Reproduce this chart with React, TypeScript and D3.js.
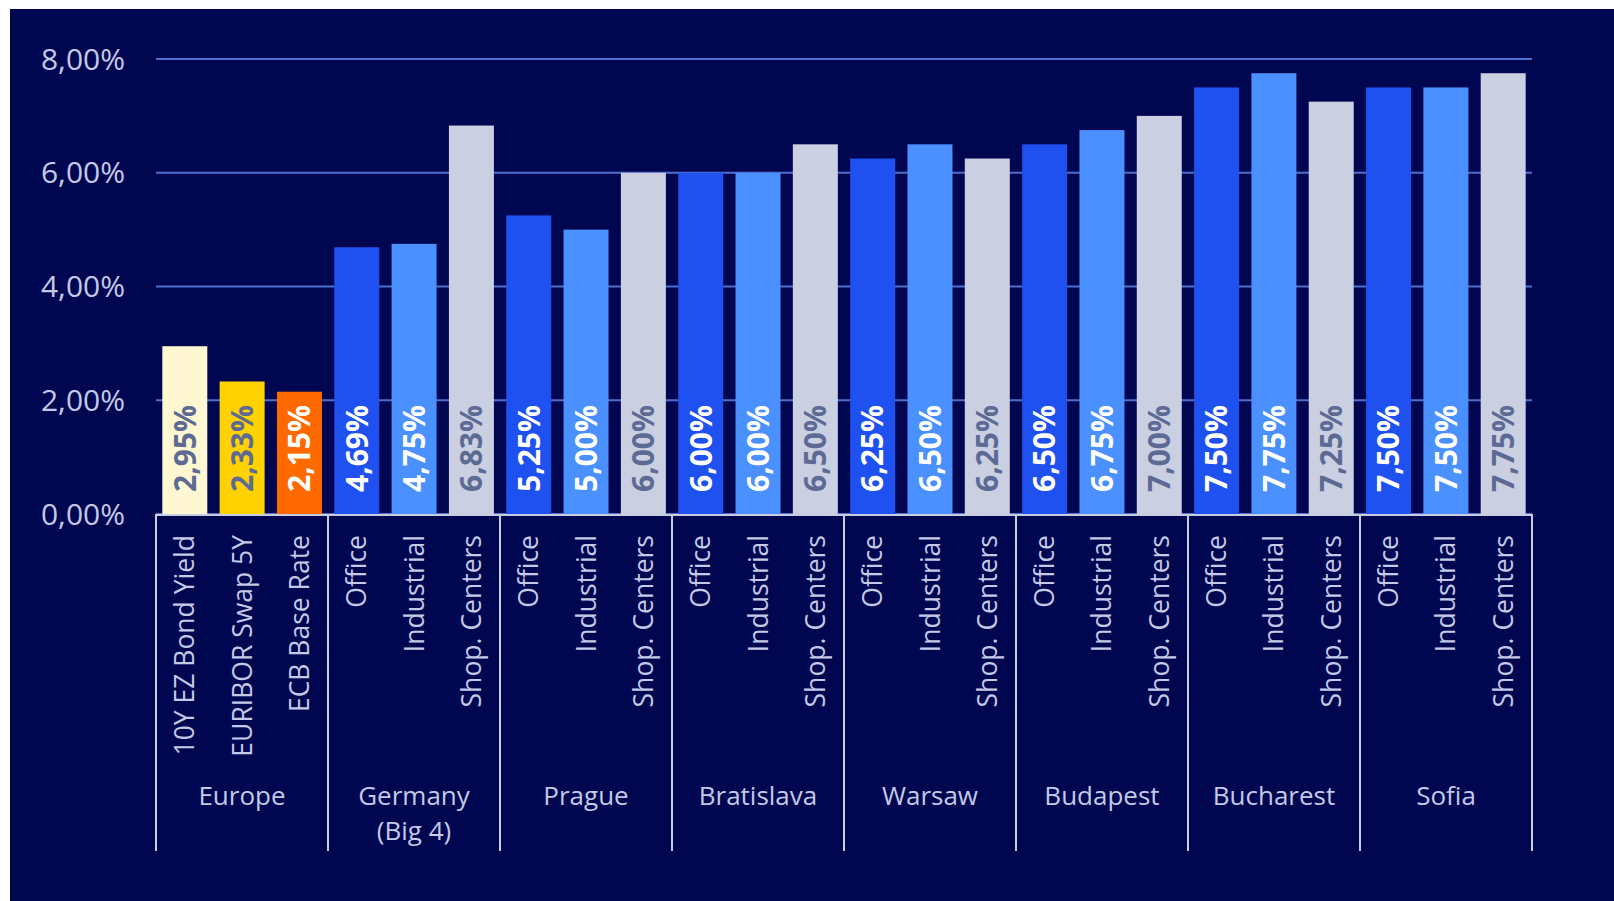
import * as d3 from 'd3';

const groups = ['Europe', 'Germany\n(Big 4)', 'Prague', 'Bratislava', 'Warsaw', 'Budapest', 'Bucharest', 'Sofia'];
const europeItems = ['10Y EZ Bond Yield', 'EURIBOR Swap 5Y', 'ECB Base Rate'];
const sectorItems = ['Office', 'Industrial', 'Shop. Centers'];
const europeValues = [2.95, 2.33, 2.15];
const officeValues = [4.69, 5.25, 6.0, 6.25, 6.5, 7.5, 7.5];
const industrialValues = [4.75, 5.0, 6.0, 6.5, 6.75, 7.75, 7.5];
const shopValues = [6.83, 6.0, 6.5, 6.25, 7.0, 7.25, 7.75];
const yTicks = [0, 2, 4, 6, 8];

const europeColors = ['#fff6d2', '#ffd200', '#ff6a00'];
const sectorColors = ['#1f50f0', '#4a90ff', '#cacfe2'];
const darkText = '#5c6a94';

type Bar = { key: string; label: string; value: number; fill: string; text: string };

const bars: Bar[] = [];
europeItems.forEach((label, i) => {
  bars.push({ key: 'Europe|' + label, label, value: europeValues[i], fill: europeColors[i], text: i === 2 ? '#ffffff' : darkText });
});
groups.slice(1).forEach((g, gi) => {
  const vals = [officeValues[gi], industrialValues[gi], shopValues[gi]];
  sectorItems.forEach((label, i) => {
    bars.push({ key: g + '|' + label, label, value: vals[i], fill: sectorColors[i], text: i === 2 ? darkText : '#ffffff' });
  });
});

const fmt = (v: number) => v.toFixed(2).replace('.', ',') + '%';

const W = 1614;
const H = 901;
const left = 156;
const right = 1532;
const top = 59;
const bottom = 514;
const axisY = 515;
const lineEnd = 851;

export default function App() {
  const x = d3.scaleBand().domain(bars.map((b) => b.key)).range([left, right]).paddingInner(0.215).paddingOuter(0.11);
  const gx = d3.scaleBand().domain(groups).range([left, right]);
  const y = d3.scaleLinear().domain([0, 8]).range([bottom, top]);
  const font = "'Open Sans', sans-serif";

  return (
    <svg width={W} height={H} style={{ position: 'absolute', left: 0, top: 0 }} fontFamily={font}>
      <rect x={0} y={0} width={W} height={H} fill="#ffffff" />
      <rect x={10} y={9} width={W - 10} height={H - 9} fill="#000650" />
      {yTicks.map((t) => (
        <g key={t}>
          <line x1={left} x2={right} y1={y(t)} y2={y(t)} stroke="#506ecc" strokeWidth={2} />
          <text x={125} y={y(t)} dy="0.35em" textAnchor="end" fontSize={30} fill="#c3c9e6">
            {fmt(t)}
          </text>
        </g>
      ))}
      {bars.map((b) => {
        const cx = (x(b.key) as number) + x.bandwidth() / 2;
        return (
          <g key={b.key}>
            <rect x={x(b.key)} y={y(b.value)} width={x.bandwidth()} height={bottom - y(b.value)} fill={b.fill} />
            <text
              transform={`translate(${cx},${bottom - 22}) rotate(-90)`}
              dy="0.36em"
              fontSize={30}
              fontWeight={700}
              fill={b.text}
            >
              {fmt(b.value)}
            </text>
            <text
              transform={`translate(${cx},${535}) rotate(-90)`}
              dy="0.36em"
              textAnchor="end"
              fontSize={26.5}
              fill="#c3c9e6"
            >
              {b.label}
            </text>
          </g>
        );
      })}
      <line x1={left - 1} x2={right + 1} y1={axisY} y2={axisY} stroke="#c8cce0" strokeWidth={2} />
      {groups.map((g) => (
        <line key={'s' + g} x1={gx(g)} x2={gx(g)} y1={axisY} y2={lineEnd} stroke="#c8cce0" strokeWidth={2} />
      ))}
      <line x1={right} x2={right} y1={axisY} y2={lineEnd} stroke="#c8cce0" strokeWidth={2} />
      {groups.map((g) => (
        <text key={'g' + g} x={(gx(g) as number) + gx.bandwidth() / 2} y={796} textAnchor="middle" fontSize={26} fill="#c3c9e6">
          {g.split('\n').map((line, i) => (
            <tspan key={i} x={(gx(g) as number) + gx.bandwidth() / 2} dy={i === 0 ? '0.35em' : 35}>
              {line}
            </tspan>
          ))}
        </text>
      ))}
    </svg>
  );
}
